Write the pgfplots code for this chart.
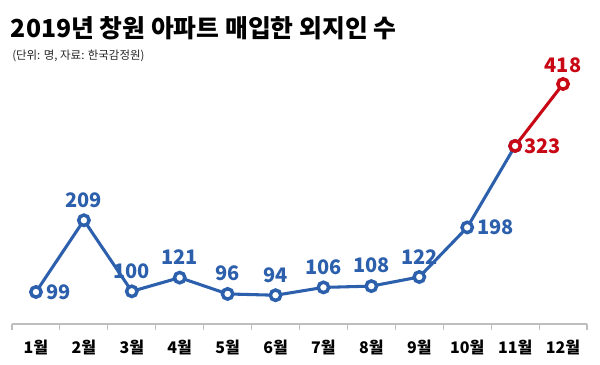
\documentclass[border=0pt]{standalone}
\usepackage{pgfplots}
\pgfplotsset{compat=1.18}
\usepackage{fontspec}
\setmainfont{Noto Sans CJK KR}
\definecolor{lblue}{RGB}{44,96,172}
\definecolor{lred}{RGB}{200,8,20}
\definecolor{axgray}{RGB}{190,190,190}
\begin{document}
\begin{tikzpicture}
\path (0,0) rectangle (450pt,272.25pt);
\node[anchor=base west, inner sep=0pt, font=\bfseries\fontsize{18.6pt}{21pt}\selectfont] at (8pt,243.75pt) {2019년 창원 아파트 매입한 외지인 수};
\node[anchor=base west, inner sep=0pt, font=\fontsize{8.6pt}{10pt}\selectfont, text=black!85] at (9pt,227.25pt) {(단위: 명, 자료: 한국감정원)};
\begin{axis}[
  at={(9pt,29.3pt)}, anchor=south west,
  scale only axis, width=431.25pt, height=195.6pt,
  xmin=0.5, xmax=12.5, ymin=50, ymax=450,
  clip=false,
  axis y line=none,
  axis x line*=bottom,
  x axis line style={draw=axgray, line width=0.9pt},
  xtick={1,2,3,4,5,6,7,8,9,10,11,12},
  xticklabels={1월,2월,3월,4월,5월,6월,7월,8월,9월,10월,11월,12월},
  major tick length=0pt,
  extra x ticks={0.5,1.5,2.5,3.5,4.5,5.5,6.5,7.5,8.5,9.5,10.5,11.5,12.5},
  extra x tick labels={},
  extra x tick style={tick align=outside, major tick length=4.5pt, tick style={draw=axgray, line width=0.8pt}},
  xticklabel style={font=\bfseries\fontsize{12pt}{14pt}\selectfont, anchor=base, yshift=-22.5pt},
]
\addplot[lblue, line width=2.3pt, mark=*, mark size=3.9pt, mark options={fill=white, line width=2.6pt}]
 coordinates {(1,99) (2,209) (3,100) (4,121) (5,96) (6,94) (7,106) (8,108) (9,122) (10,198) (11,323)};
\addplot[lred, line width=2.3pt, mark=*, mark size=3.9pt, mark options={fill=white, line width=2.6pt}]
 coordinates {(11,323) (12,418)};
% labels above (blue)
\addplot[draw=none, mark=none, point meta=explicit symbolic, nodes near coords,
  every node near coord/.append style={anchor=south, inner sep=0pt, yshift=9.5pt, text=lblue, font=\bfseries\fontsize{15pt}{17pt}\selectfont}]
 coordinates {(2,209)[209] (3,100)[100] (4,121)[121] (5,96)[96] (6,94)[94] (7,106)[106] (8,108)[108] (9,122)[122]};
% labels right (blue)
\addplot[draw=none, mark=none, point meta=explicit symbolic, nodes near coords,
  every node near coord/.append style={anchor=west, inner sep=0pt, xshift=7.5pt, text=lblue, font=\bfseries\fontsize{15pt}{17pt}\selectfont}]
 coordinates {(1,99)[99] (10,198)[198]};
% red labels
\addplot[draw=none, mark=none, point meta=explicit symbolic, nodes near coords,
  every node near coord/.append style={anchor=west, inner sep=0pt, xshift=6.5pt, text=lred, font=\bfseries\fontsize{15pt}{17pt}\selectfont}]
 coordinates {(11,323)[323]};
\addplot[draw=none, mark=none, point meta=explicit symbolic, nodes near coords,
  every node near coord/.append style={anchor=south, inner sep=0pt, yshift=8pt, text=lred, font=\bfseries\fontsize{15pt}{17pt}\selectfont}]
 coordinates {(12,418)[418]};
\end{axis}
\end{tikzpicture}
\end{document}
